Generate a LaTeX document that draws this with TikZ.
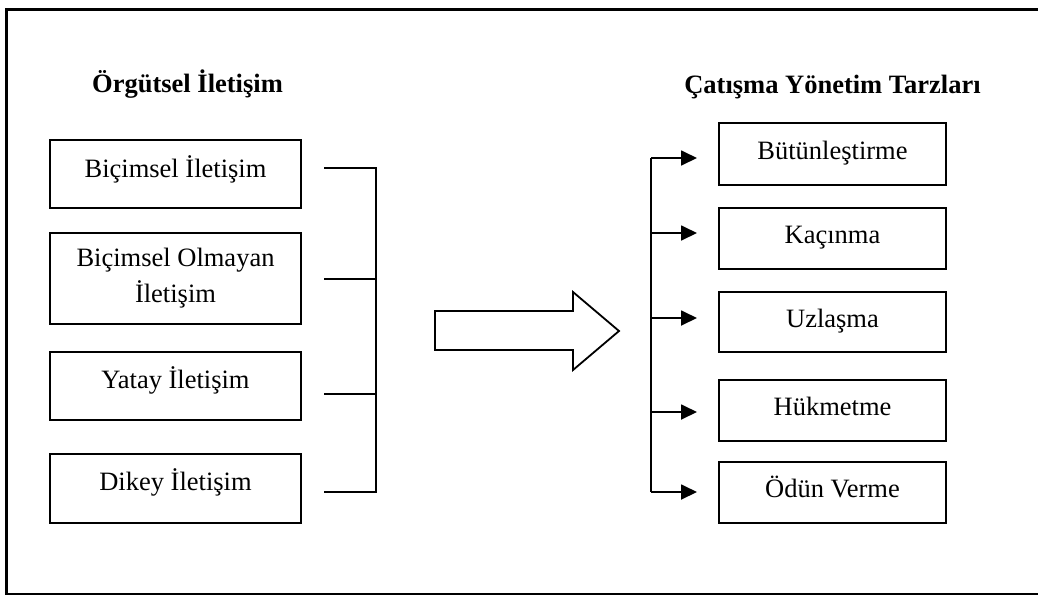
\documentclass[tikz,border=0pt]{standalone}
\usepackage{fontspec}
\setmainfont{Liberation Serif}
\usetikzlibrary{arrows.meta}
\begin{document}
\begin{tikzpicture}[x=1pt,y=-1pt,
  every node/.style={font=\fontsize{26.5}{36}\selectfont},
  box/.style={draw,line width=1.8pt,inner sep=0pt,align=center},
  lbox/.style={box,minimum width=251pt},
  rbox/.style={box,minimum width=227pt},
  % baseline offset below the box centre: text height = depth + 2*offset
  drop/.style={text depth=8pt,text height=#1},
  conn/.style={line width=1.8pt},
  tip/.style={conn,-{Triangle[length=16pt,width=15pt]}},
  title/.style={anchor=base,font=\fontsize{26.5}{32}\selectfont\bfseries}]
\useasboundingbox (0,0) rectangle (1038,595);
% open frame
\draw[line width=2.2pt] (1040,9.5) -- (6.5,9.5) -- (6.5,594) -- (1040,594);

% headings
\node[title] (lt) at (187.5,92) {Örgütsel İletişim};
\node[title] (rt) at (832.5,93) {Çatışma Yönetim Tarzları};

% communication types
\node[lbox,minimum height=68pt,drop=14pt] (l1) at (175.5,174) {Biçimsel İletişim};
\node[lbox,minimum height=91pt] (l2) at (175.5,278.5) {Biçimsel Olmayan\\İletişim};
\node[lbox,minimum height=68pt,drop=12pt] (l3) at (175.5,386) {Yatay İletişim};
\node[lbox,minimum height=69pt,drop=11pt] (l4) at (175.5,488.5) {Dikey İletişim};

% bracket collecting the left column
\coordinate (s1) at (324,168); \coordinate (j1) at (376,168);
\coordinate (s2) at (324,279); \coordinate (j2) at (376,279);
\coordinate (s3) at (324,394); \coordinate (j3) at (376,394);
\coordinate (s4) at (324,492); \coordinate (j4) at (376,492);
\draw[conn] (s1) -- (j1) -- (j4) -- (s4);
\draw[conn] (s2) -- (j2);
\draw[conn] (s3) -- (j3);

% block arrow between the columns
\draw[line width=1.8pt,line join=miter]
  (435,311) -- (573,311) -- (573,292) -- (619,331) -- (573,370)
  -- (573,350) -- (435,350) -- cycle;

% conflict management styles
\node[rbox,minimum height=62pt,drop=18pt] (r1) at (832.5,154) {Bütünleştirme};
\node[rbox,minimum height=61pt,drop=17pt] (r2) at (832.5,238.5) {Kaçınma};
\node[rbox,minimum height=60pt,drop=18pt] (r3) at (832.5,322) {Uzlaşma};
\node[rbox,minimum height=61pt,drop=17pt] (r4) at (832.5,410.5) {Hükmetme};
\node[rbox,minimum height=61pt,drop=17pt] (r5) at (832.5,492.5) {Ödün Verme};

% distribution line with arrows
\coordinate (a1) at (651,158); \coordinate (t1) at (697,158);
\coordinate (a2) at (651,233); \coordinate (t2) at (697,233);
\coordinate (a3) at (651,318); \coordinate (t3) at (697,318);
\coordinate (a4) at (651,412); \coordinate (t4) at (697,412);
\coordinate (a5) at (651,492); \coordinate (t5) at (697,492);
\draw[conn] (a1) -- (a5);
\foreach \i in {1,...,5} \draw[tip] (a\i) -- (t\i);
\end{tikzpicture}
\end{document}
